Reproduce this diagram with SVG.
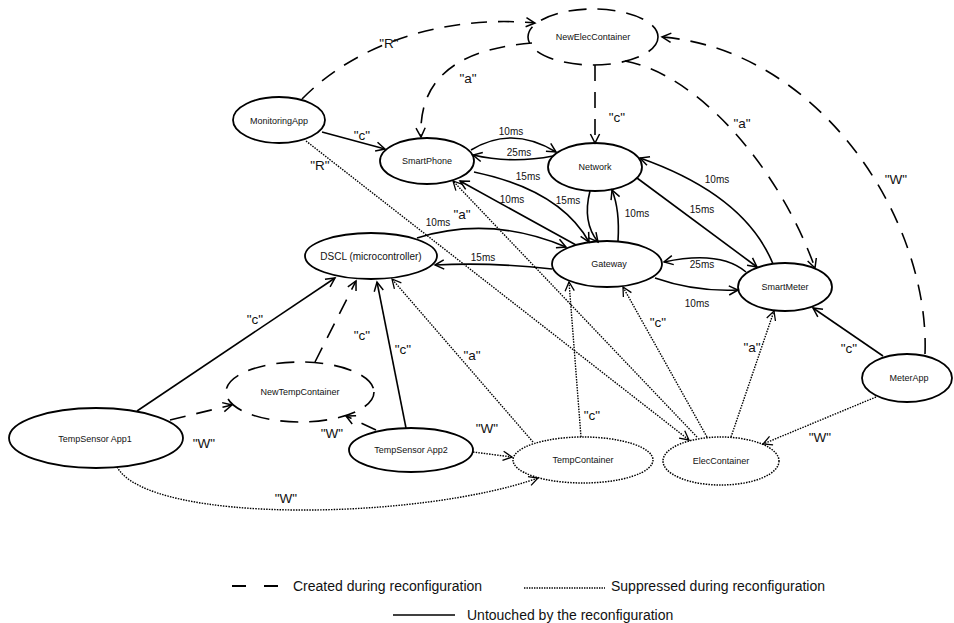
<svg xmlns="http://www.w3.org/2000/svg" width="954" height="623" viewBox="0 0 954 623">
<style>
.n{fill:#fff;stroke:#000;stroke-width:1.8}
.nd{fill:#fff;stroke:#000;stroke-width:1.6;stroke-dasharray:18 11}
.no{fill:#fff;stroke:#000;stroke-width:1.5;stroke-dasharray:1.5 1.2}
.s{fill:none;stroke:#000;stroke-width:1.6;marker-end:url(#ah)}
.d{fill:none;stroke:#000;stroke-width:1.6;stroke-dasharray:16 11;marker-end:url(#ah)}
.o{fill:none;stroke:#000;stroke-width:1.4;stroke-dasharray:1.5 1.2;marker-end:url(#ahs)}
text{font-family:"Liberation Sans",Arial,sans-serif;fill:#111}
.t{font-size:9px;text-anchor:middle}
.m{font-size:10px;text-anchor:middle}
.q{font-size:13.5px;text-anchor:middle}
.l{font-size:14px}
</style>
<defs>
<marker id="ah" viewBox="-11 -7 13 14" refX="0" refY="0" markerWidth="13" markerHeight="14" markerUnits="userSpaceOnUse" orient="auto">
<path d="M-9,-4.6 L0,0 L-9,4.6" fill="none" stroke="#000" stroke-width="1.5"/>
</marker>
<marker id="ahs" viewBox="-11 -7 13 14" refX="0" refY="0" markerWidth="13" markerHeight="14" markerUnits="userSpaceOnUse" orient="auto">
<path d="M-9,-4.6 L0,0 L-9,4.6" fill="none" stroke="#000" stroke-width="1.3"/>
</marker>
</defs>

<g id="nodes">
<g id="n-newelec"><ellipse class="nd" cx="593" cy="37" rx="65" ry="28"/><text class="t" x="593" y="40.2">NewElecContainer</text></g>
<g id="n-monitoring"><ellipse class="n" cx="279" cy="120" rx="46" ry="23"/><text class="t" x="279" y="124.2">MonitoringApp</text></g>
<g id="n-smartphone"><ellipse class="n" cx="427" cy="161" rx="47" ry="23"/><text class="t" x="427" y="164.2">SmartPhone</text></g>
<g id="n-network"><ellipse class="n" cx="595" cy="167" rx="47" ry="24"/><text class="t" x="595" y="170.2">Network</text></g>
<g id="n-dscl"><ellipse class="n" cx="371" cy="256" rx="66" ry="23"/><text class="t" style="font-size:10px" x="371" y="259.5">DSCL (microcontroller)</text></g>
<g id="n-gateway"><ellipse class="n" cx="607" cy="264" rx="55" ry="23"/><text class="t" x="609" y="267.2">Gateway</text></g>
<g id="n-smartmeter"><ellipse class="n" cx="785" cy="287" rx="47" ry="24"/><text class="t" x="785" y="290.2">SmartMeter</text></g>
<g id="n-meterapp"><ellipse class="n" cx="907" cy="378" rx="45" ry="24"/><text class="t" x="909" y="381.2">MeterApp</text></g>
<g id="n-newtemp"><ellipse class="nd" cx="300" cy="392" rx="74" ry="30"/><text class="t" x="300" y="395.2">NewTempContainer</text></g>
<g id="n-app1"><ellipse class="n" cx="96" cy="438" rx="87" ry="30"/><text class="t" x="95" y="442.2">TempSensor App1</text></g>
<g id="n-app2"><ellipse class="n" cx="411" cy="450" rx="62" ry="22"/><text class="t" x="411" y="453.2">TempSensor App2</text></g>
<g id="n-tempcont"><ellipse class="no" cx="583" cy="460" rx="70" ry="23"/><text class="t" x="583" y="463.2">TempContainer</text></g>
<g id="n-eleccont"><ellipse class="no" cx="721" cy="461" rx="58" ry="24"/><text class="t" x="721" y="464.2">ElecContainer</text></g>
</g>

<g id="connectors">
<path class="d" d="M302,99 C360,40 450,15 535,23"/>
<path class="d" d="M532,43 C470,48 418,70 421,137"/>
<path class="d" d="M595,65 L595,143"/>
<path class="d" d="M625,61 C700,75 780,170 815,268"/>
<path class="d" d="M925,354 C930,220 820,50 662,37"/>
<path class="d" d="M315,362 L356,281"/>
<path class="d" d="M170,420 L232,405"/>
<path class="d" d="M376,430 L346,416"/>
<path class="s" d="M322,132 L385,149"/>
<path class="s" d="M471,150 Q512,125 556,152"/>
<path class="s" d="M553,156 Q512,164 473,155"/>
<path class="s" d="M474,172 Q560,190 589,242"/>
<path class="s" d="M576,245 L460,181"/>
<path class="s" d="M590,191 Q582,222 598,242"/>
<path class="s" d="M618,241 Q620,210 612,190"/>
<path class="s" d="M417,238 Q490,215 566,247"/>
<path class="s" d="M552,269 Q490,262 435,265"/>
<path class="s" d="M637,178 L757,267"/>
<path class="s" d="M773,264 Q745,195 640,158"/>
<path class="s" d="M746,272 Q720,250 664,262"/>
<path class="s" d="M655,278 Q695,292 738,290"/>
<path class="s" d="M883,356 L813,308"/>
<path class="s" d="M137,411 L335,278"/>
<path class="s" d="M406,428 L377,282"/>
<path class="o" d="M306,141 L689,440"/>
<path class="o" d="M697,437 L453,181"/>
<path class="o" d="M707,437 L623,287"/>
<path class="o" d="M731,437 L774,311"/>
<path class="o" d="M876,397 L763,444"/>
<path class="o" d="M533,442 L392,279"/>
<path class="o" d="M581,437 L569,282"/>
<path class="o" d="M473,452 L512,457"/>
<path class="o" d="M117,467 C150,525 420,520 538,478"/>
</g>

<g id="labels">
<text class="q" x="389" y="47.7">"R"</text>
<text class="q" x="468" y="82.7">"a"</text>
<text class="q" x="617" y="121.7">"c"</text>
<text class="q" x="362" y="139.7">"c"</text>
<text class="q" x="320" y="169.7">"R"</text>
<text class="q" x="742" y="127.7">"a"</text>
<text class="q" x="896" y="183.7">"W"</text>
<text class="q" x="462" y="218.7">"a"</text>
<text class="q" x="849" y="352.7">"c"</text>
<text class="q" x="820" y="441.7">"W"</text>
<text class="q" x="752" y="351.7">"a"</text>
<text class="q" x="658" y="326.7">"c"</text>
<text class="q" x="592" y="419.7">"c"</text>
<text class="q" x="472" y="359.7">"a"</text>
<text class="q" x="487" y="432.7">"W"</text>
<text class="q" x="403" y="353.7">"c"</text>
<text class="q" x="362" y="339.7">"c"</text>
<text class="q" x="255" y="323.7">"c"</text>
<text class="q" x="204" y="447.7">"W"</text>
<text class="q" x="332" y="437.7">"W"</text>
<text class="q" x="286" y="502.7">"W"</text>
<text class="m" x="511" y="134.5">10ms</text>
<text class="m" x="519" y="155.5">25ms</text>
<text class="m" x="528" y="179.5">15ms</text>
<text class="m" x="512" y="202.5">10ms</text>
<text class="m" x="568" y="203.5">15ms</text>
<text class="m" x="637" y="216.5">10ms</text>
<text class="m" x="438" y="225.5">10ms</text>
<text class="m" x="483" y="260.5">15ms</text>
<text class="m" x="717" y="182.5">10ms</text>
<text class="m" x="702" y="212.5">15ms</text>
<text class="m" x="702" y="267.5">25ms</text>
<text class="m" x="697" y="306.5">10ms</text>
</g>

<g id="legend">
<line x1="232" y1="586" x2="279" y2="586" stroke="#000" stroke-width="1.8" stroke-dasharray="14 18"/>
<text class="l" x="293" y="591">Created during reconfiguration</text>
<line x1="524" y1="588" x2="605" y2="588" stroke="#000" stroke-width="1.3" stroke-dasharray="1.4 1.1"/>
<text class="l" x="611" y="591">Suppressed during reconfiguration</text>
<line x1="393" y1="615" x2="455" y2="615" stroke="#000" stroke-width="1.6"/>
<text class="l" x="467" y="620">Untouched by the reconfiguration</text>
</g>
</svg>
